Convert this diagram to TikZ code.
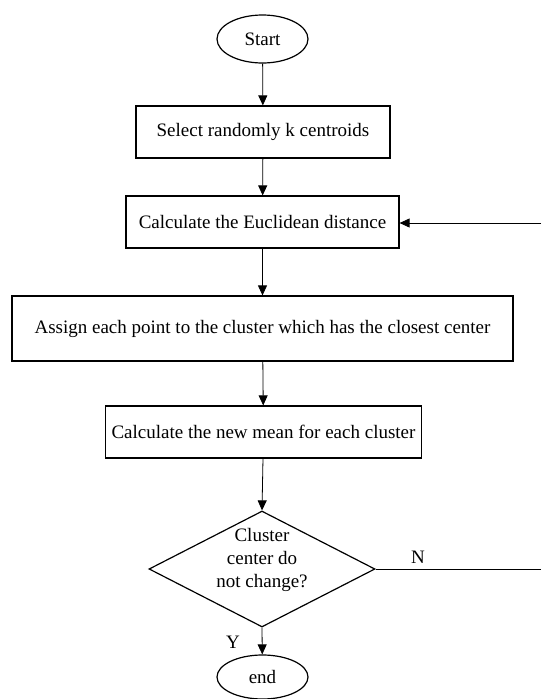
\documentclass[tikz,border=0pt]{standalone}
\usepackage{fontspec}
\setmainfont{Liberation Serif}
\usetikzlibrary{shapes.geometric,arrows.meta}
\begin{document}
\begin{tikzpicture}[x=1pt,y=-1pt,
  every node/.style={font=\fontsize{19}{23}\selectfont},
  proc/.style={draw, line width=1.2pt, rectangle, inner sep=0pt, inner xsep=6pt, align=center},
  term/.style={draw, line width=1.2pt, ellipse, inner sep=0pt, minimum width=91pt},
  decision/.style={draw, line width=1.2pt, diamond, inner sep=0pt, minimum width=226pt, minimum height=116pt},
  conn/.style={line width=0.8pt, -{Triangle[length=10pt,width=9pt]}},
  plainline/.style={line width=0.8pt},
  lbl/.style={inner sep=0pt}
]
\useasboundingbox (0,0) rectangle (541,699);
\node[term, minimum height=48pt] (start) at (262.5,39) {Start};
\node[proc, minimum width=254pt, minimum height=52pt] (b1) at (263,132) {Select randomly k centroids};
\node[proc, minimum width=273pt, minimum height=52pt] (b2) at (262.5,222) {Calculate the Euclidean distance};
\node[proc, minimum width=501pt, minimum height=65pt] (b3) at (262.5,328.5) {Assign each point to the cluster which has the closest center};
\node[proc, minimum width=253pt, minimum height=52pt] (b4) at (263.5,432) {Calculate the new mean for each cluster};
\node[decision] (dec) at (262,569) {};
\node[lbl, align=center] (dectext) at ([yshift=9pt]dec.center) {Cluster\\center do\\not change?};
\node[term, minimum height=44pt] (end) at (262.5,677) {end};
\coordinate (nend) at (541,569);
\coordinate (rstart) at (541,223);
\node[lbl] (nlab) at (418,557) {N};
\node[lbl] (ylab) at (233,642) {Y};

\draw[conn] (start) -- (b1);
\draw[conn] (b1) -- (b2);
\draw[conn] (b2) -- (b3);
\draw[conn] (b3) -- (b4);
\draw[conn] (b4) -- (dec.north);
\draw[conn] (dec.south) -- (end);
\draw[plainline] (dec.east) -- (nend);
\draw[conn] (rstart) -- (b2.east |- rstart);
\end{tikzpicture}
\end{document}
